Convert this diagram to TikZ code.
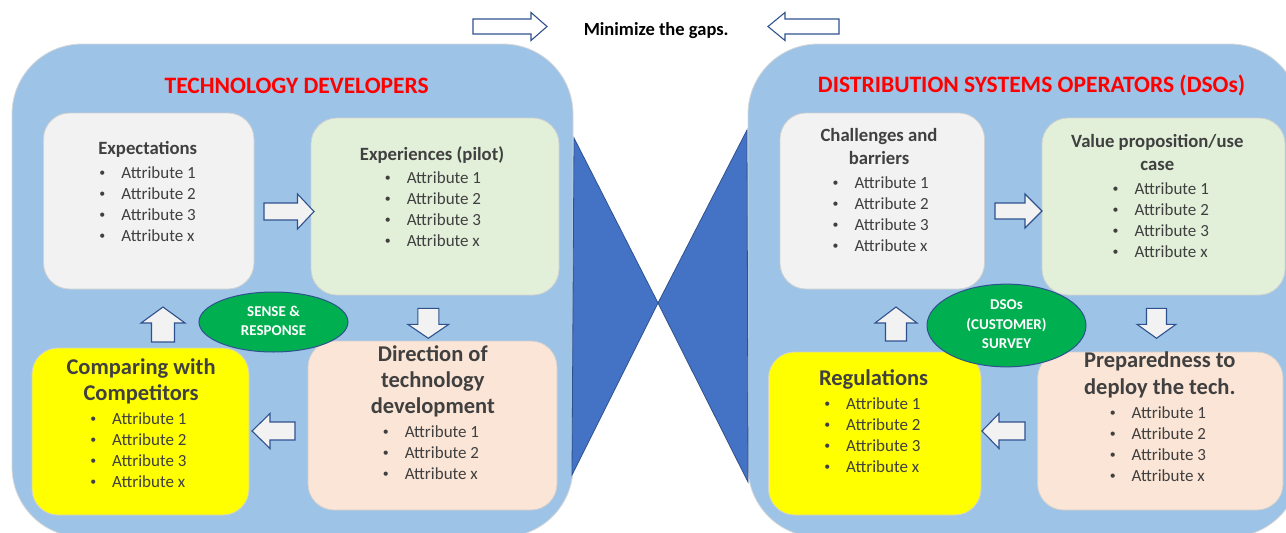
\documentclass[tikz,border=0pt]{standalone}
\usepackage{fontspec}
\usepackage{graphicx}
\setmainfont{Carlito}
\usetikzlibrary{shapes.geometric}

\definecolor{panelblue}{HTML}{9DC3E6}
\definecolor{gapblue}{HTML}{4472C4}
\definecolor{edgeblue}{HTML}{2F528F}
\definecolor{greybox}{HTML}{F2F2F2}
\definecolor{greenbox}{HTML}{E2F0D9}
\definecolor{peachbox}{HTML}{FBE5D6}
\definecolor{yellowbox}{HTML}{FFFF00}
\definecolor{ovalgreen}{HTML}{00B050}
\definecolor{textgray}{HTML}{404040}

\newcommand{\bul}{\llap{\raisebox{1.7pt}{\scalebox{0.7}{\textbullet}}\hspace{16pt}}}
% tail point, angle, length, body half width, head half width, head length, fill
\newcommand{\blockarrow}[7]{%
  \draw[arrowline, fill=#7, shift={#1}, rotate=#2]
    (0,-#4) -- ({#3-#6},-#4) -- ({#3-#6},-#5) -- (#3,0)
    -- ({#3-#6},#5) -- ({#3-#6},#4) -- (0,#4) -- cycle;}

\tikzset{
  panel/.style={fill=panelblue, draw=white!85!black, line width=0.8pt, rounded corners=70pt},
  box/.style={draw=white!82!black, line width=0.8pt, rounded corners=26pt, inner sep=0pt},
  hourglass/.style={fill=gapblue, draw=edgeblue, line width=0.8pt},
  arrowline/.style={draw=edgeblue, line width=1.1pt, line join=miter},
  boxtitle/.style={inner sep=0pt, text=textgray, font=\fontsize{18.7}{23}\selectfont\bfseries},
  bigtitle/.style={inner sep=0pt, text=textgray, font=\fontsize{22.5}{26.4}\selectfont\bfseries},
  attrlist/.style={inner sep=0pt, text=textgray, font=\fontsize{17}{21}\selectfont},
  headline/.style={inner sep=0pt, text=red, font=\fontsize{23.5}{28}\selectfont\bfseries},
  oval/.style={ellipse, draw=edgeblue, fill=ovalgreen, line width=1pt, inner sep=0pt,
    text=white, font=\fontsize{15}{19.5}\selectfont\bfseries}
}

\begin{document}
\begin{tikzpicture}[x=1pt,y=-1pt]
  \useasboundingbox (0,0) rectangle (1286,533);
  \clip (0,0) rectangle (1286,533);

  % panels and the gap
  \draw[panel] (12,44) rectangle (573,537);
  \draw[panel] (748,44) rectangle (1300,537);
  \draw[hourglass] (574,138) -- (658,303) -- (572,475) -- cycle;
  \draw[hourglass] (747,130) -- (658,303) -- (748,482) -- cycle;

  \node[inner sep=0pt, font=\fontsize{18.5}{22}\selectfont\bfseries] (gaps) at (656.2,35) [anchor=base] {Minimize the gaps.};
  \blockarrow{(473,26.5)}{0}{74}{7.5}{14}{16}{white}
  \blockarrow{(839,26.5)}{180}{71}{7.5}{14}{17}{white}

  \node[headline, anchor=base] (devs) at (296.7,93.3) {TECHNOLOGY DEVELOPERS};
  \node[headline, anchor=base] (dsos) at (1031.6,92.3) {DISTRIBUTION SYSTEMS OPERATORS (DSOs)};

  % technology developers
  \node[box, fill=greybox, minimum width=210.5, minimum height=176] (expect) at (148.75,201) {};
  \node[box, fill=greenbox, minimum width=248, minimum height=177] (exper) at (435,206.5) {};
  \node[box, fill=yellowbox, minimum width=217, minimum height=167] (compar) at (140.5,431.5) {};
  \node[box, fill=peachbox, minimum width=249, minimum height=169] (direct) at (432.5,425.5) {};

  \node[boxtitle, anchor=base] (expectT) at (147.7,154) {Expectations};
  \node[attrlist, anchor=base west] (expectL) at (121.2,178.3)
    {\begin{tabular}[t]{@{}l@{}}\bul Attribute 1\\ \bul Attribute 2\\ \bul Attribute 3\\ \bul Attribute x\end{tabular}};
  \node[boxtitle, anchor=base] (experT) at (432,160) {Experiences (pilot)};
  \node[attrlist, anchor=base west] (experL) at (406.6,183.3)
    {\begin{tabular}[t]{@{}l@{}}\bul Attribute 1\\ \bul Attribute 2\\ \bul Attribute 3\\ \bul Attribute x\end{tabular}};
  \node[bigtitle, anchor=base] (comparT) at (141.1,374.3)
    {\begin{tabular}[t]{@{}c@{}}Comparing with\\ Competitors\end{tabular}};
  \node[attrlist, anchor=base west] (comparL) at (112,424.3)
    {\begin{tabular}[t]{@{}l@{}}\bul Attribute 1\\ \bul Attribute 2\\ \bul Attribute 3\\ \bul Attribute x\end{tabular}};
  \node[bigtitle, anchor=base] (directT) at (432.8,361)
    {\begin{tabular}[t]{@{}c@{}}Direction of\\ technology\\ development\end{tabular}};
  \node[attrlist, anchor=base west] (directL) at (404.6,437.3)
    {\begin{tabular}[t]{@{}l@{}}\bul Attribute 1\\ \bul Attribute 2\\ \bul Attribute x\end{tabular}};

  \node[oval, minimum width=149, minimum height=60] (sense) at (273.5,322)
    {\begin{tabular}{@{}c@{}}SENSE \&\\ RESPONSE\end{tabular}};

  \blockarrow{(264,211.5)}{0}{50}{8.5}{17.5}{16.5}{greybox}
  \blockarrow{(428.3,308.3)}{-90}{30}{10.5}{20.5}{14}{greybox}
  \blockarrow{(295,431)}{180}{43}{9}{17.5}{18}{greybox}
  \blockarrow{(163,342)}{90}{35}{11.5}{22}{16}{greybox}

  % distribution systems operators
  \node[box, fill=greybox, minimum width=204.5, minimum height=176] (chall) at (882.25,201) {};
  \node[box, fill=greenbox, minimum width=243, minimum height=177] (value) at (1163.5,206.5) {};
  \node[box, fill=yellowbox, minimum width=212.5, minimum height=163] (regul) at (874.75,433.5) {};
  \node[box, fill=peachbox, minimum width=245.4, minimum height=158] (prep) at (1160.3,431) {};

  \node[boxtitle, anchor=base] (challT) at (879,141.7)
    {\begin{tabular}[t]{@{}c@{}}Challenges and\\ barriers\end{tabular}};
  \node[attrlist, anchor=base west] (challL) at (854.3,188.3)
    {\begin{tabular}[t]{@{}l@{}}\bul Attribute 1\\ \bul Attribute 2\\ \bul Attribute 3\\ \bul Attribute x\end{tabular}};
  \node[boxtitle, anchor=base] (valueT) at (1157.3,147.7)
    {\begin{tabular}[t]{@{}c@{}}Value proposition/use\\ case\end{tabular}};
  \node[attrlist, anchor=base west] (valueL) at (1134.4,194.3)
    {\begin{tabular}[t]{@{}l@{}}\bul Attribute 1\\ \bul Attribute 2\\ \bul Attribute 3\\ \bul Attribute x\end{tabular}};
  \node[bigtitle, anchor=base] (regulT) at (873.6,385) {Regulations};
  \node[attrlist, anchor=base west] (regulL) at (846,409)
    {\begin{tabular}[t]{@{}l@{}}\bul Attribute 1\\ \bul Attribute 2\\ \bul Attribute 3\\ \bul Attribute x\end{tabular}};
  \node[bigtitle, anchor=base] (prepT) at (1159.8,367.7)
    {\begin{tabular}[t]{@{}c@{}}Preparedness to\\ deploy the tech.\end{tabular}};
  \node[attrlist, anchor=base west] (prepL) at (1131.5,418.3)
    {\begin{tabular}[t]{@{}l@{}}\bul Attribute 1\\ \bul Attribute 2\\ \bul Attribute 3\\ \bul Attribute x\end{tabular}};

  \node[oval, minimum width=159, minimum height=65] (survey) at (1006.5,325.5)
    {\begin{tabular}{@{}c@{}}DSOs\\ (CUSTOMER)\\ SURVEY\end{tabular}};

  \blockarrow{(995,211)}{0}{47}{8}{17}{17}{greybox}
  \blockarrow{(1156.5,308.3)}{-90}{30}{10}{19.5}{14}{greybox}
  \blockarrow{(1025,431)}{180}{43}{9}{17.5}{17}{greybox}
  \blockarrow{(896,341)}{90}{34}{10.5}{21}{16}{greybox}
\end{tikzpicture}
\end{document}
